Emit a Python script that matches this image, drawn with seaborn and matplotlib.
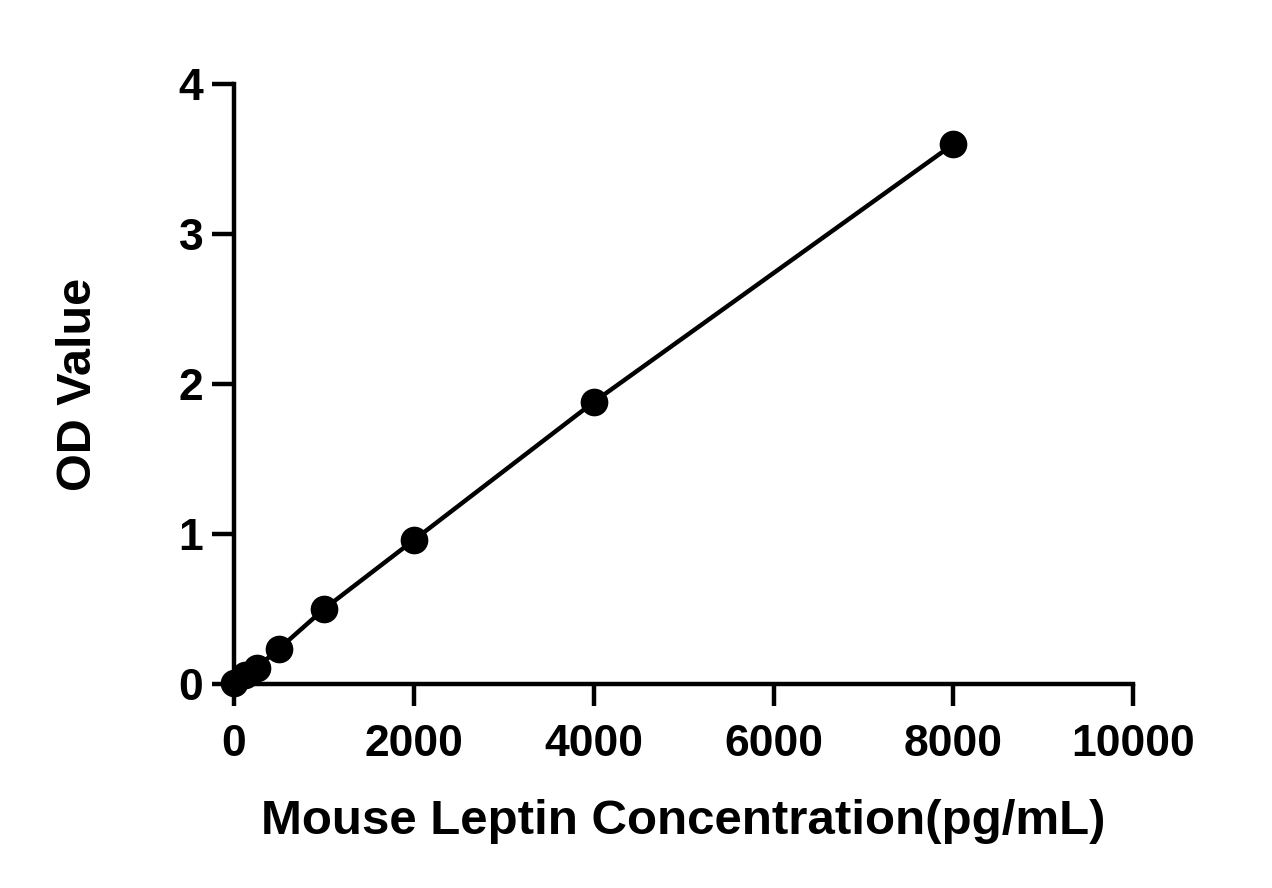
import matplotlib
matplotlib.use("Agg")
import matplotlib.pyplot as plt
import seaborn as sns
import pandas as pd

# standard curve readings
conc = [0, 125, 250, 500, 1000, 2000, 4000, 8000]
od = [0.01, 0.06, 0.11, 0.235, 0.50, 0.96, 1.88, 3.60]

df = pd.DataFrame({'conc': conc, 'od': od})

sns.set_style('ticks')
plt.rcParams['font.family'] = ['Liberation Sans', 'DejaVu Sans']
plt.rcParams['font.weight'] = 'bold'
plt.rcParams['text.color'] = 'black'
plt.rcParams['axes.labelcolor'] = 'black'
plt.rcParams['xtick.color'] = 'black'
plt.rcParams['ytick.color'] = 'black'

fig = plt.figure(figsize=(12.72, 8.88), dpi=100)
ax = fig.add_axes([0.184, 0.2297, 0.707, 0.6757])

sns.lineplot(data=df, x='conc', y='od', color='black', linewidth=3.2, ax=ax)
sns.scatterplot(data=df, x='conc', y='od', color='black', s=340, edgecolor='black', zorder=3, ax=ax, clip_on=False)

ax.set_xlim(0, 10000)
ax.set_ylim(0, 4)
ax.set_xticks([0, 2000, 4000, 6000, 8000, 10000])
ax.set_yticks([0, 1, 2, 3, 4])
ax.tick_params(width=3.2, length=16, labelsize=32)
ax.tick_params(axis='x', pad=13)
ax.tick_params(axis='y', pad=6)
for lab in ax.get_xticklabels() + ax.get_yticklabels():
    lab.set_fontweight('bold')
for s in ['left', 'bottom']:
    ax.spines[s].set_linewidth(3.2)
    ax.spines[s].set_color('black')
sns.despine(ax=ax)

ax.set_xlabel('Mouse Leptin Concentration(pg/mL)', fontsize=35.5, fontweight='bold', labelpad=24)
ax.set_ylabel('OD Value', fontsize=35, fontweight='bold', labelpad=56)

fig.savefig('out.png', dpi=100)
